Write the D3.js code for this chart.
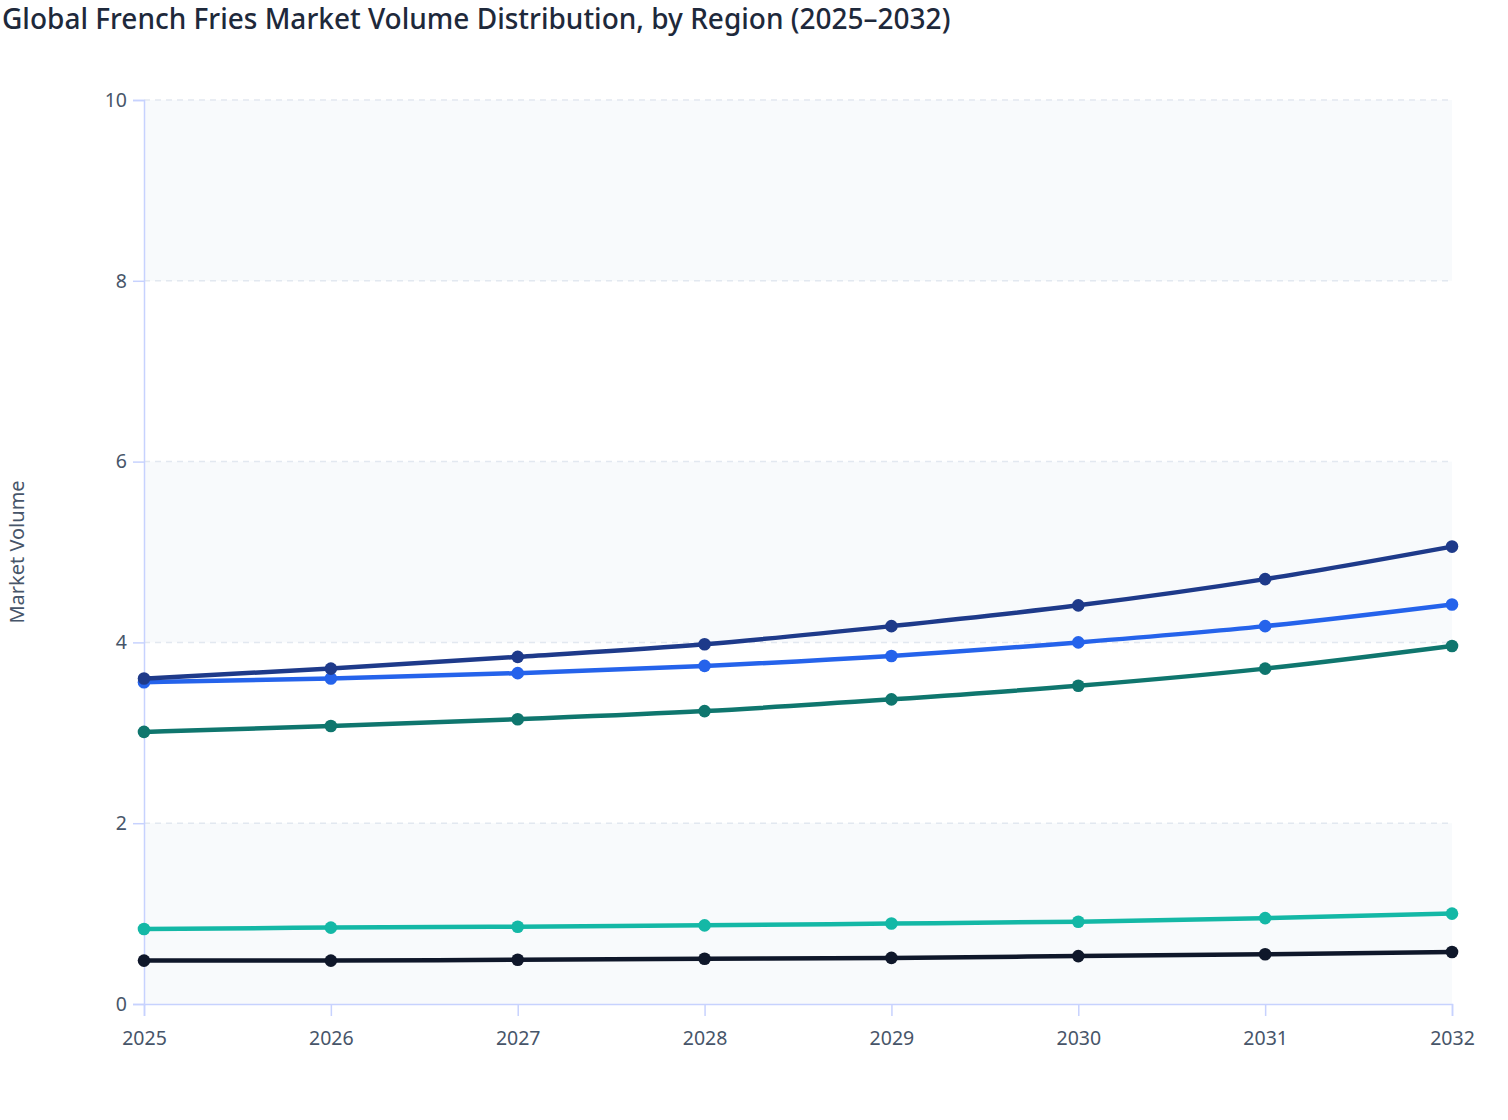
<!DOCTYPE html>
<html>
<head>
<meta charset="utf-8">
<script src="https://cdn.jsdelivr.net/npm/d3@7"></script>
<style>
  body { margin: 0; background: #ffffff; font-family: "Noto Sans", "Open Sans", sans-serif; }
  svg { display: block; }
</style>
</head>
<body>
<svg id="chart"></svg>
<script>
var years = [2025, 2026, 2027, 2028, 2029, 2030, 2031, 2032],
	yTicks = [0, 2, 4, 6, 8, 10],
	regions = ["Middle East & Africa", "Latin America", "Asia Pacific", "Europe", "North America"],
	colors = ["#0f172a", "#14b8a6", "#0f766e", "#2563eb", "#1e3a8a"];

// values, one array per region
var meaValues = [0.48, 0.48, 0.49, 0.50, 0.51, 0.53, 0.55, 0.575],
	latamValues = [0.83, 0.845, 0.855, 0.87, 0.89, 0.91, 0.95, 1.00],
	apacValues = [3.01, 3.075, 3.15, 3.24, 3.37, 3.52, 3.71, 3.96],
	europeValues = [3.56, 3.60, 3.66, 3.74, 3.85, 4.00, 4.18, 4.42],
	naValues = [3.60, 3.71, 3.84, 3.98, 4.18, 4.41, 4.70, 5.06];

var allValues = [meaValues, latamValues, apacValues, europeValues, naValues];

var width = 1508,
	height = 1120,
	margin = {top: 100, right: 56, bottom: 116, left: 144},
	plotwidth = width - margin.left - margin.right,
	plotheight = height - margin.top - margin.bottom;

var vis = d3.select("#chart").attr("width", width).attr("height", height);

var x = d3.scaleLinear().domain([2025, 2032]).range([0, plotwidth]),
	y = d3.scaleLinear().domain([0, 10]).range([plotheight, 0]);

vis.append("text")
	.attr("x", 2)
	.attr("y", 29)
	.attr("fill", "#1e293b")
	.attr("font-size", 28)
	.attr("font-weight", 500)
	.text("Global French Fries Market Volume Distribution, by Region (2025\u20132032)");

var g = vis.append("g").attr("transform", "translate(" + margin.left + "," + margin.top + ")");

// alternating bands
var bands = [];
for (var ii = 0; ii < yTicks.length - 1; ii += 2) bands.push([yTicks[ii], yTicks[ii + 1]]);
g.selectAll("rect.band")
	.data(bands)
	.enter()
	.append("rect")
	.attr("class", "band")
	.attr("x", 0)
	.attr("width", plotwidth)
	.attr("y", function(d){ return y(d[1]); })
	.attr("height", function(d){ return y(d[0]) - y(d[1]); })
	.attr("fill", "#f8fafc");

// grid
g.selectAll("line.grid")
	.data(yTicks.filter(function(d){ return d > 0; }))
	.enter()
	.append("line")
	.attr("class", "grid")
	.attr("x1", 0)
	.attr("x2", plotwidth)
	.attr("y1", function(d){ return y(d); })
	.attr("y2", function(d){ return y(d); })
	.attr("stroke", "#e2e8f0")
	.attr("stroke-width", 1.5)
	.attr("stroke-dasharray", "6,5");

// axes
var yAxis = g.append("g")
	.call(d3.axisLeft(y).tickValues(yTicks).tickSize(11).tickPadding(6).tickFormat(d3.format("d")));
var xAxis = g.append("g")
	.attr("transform", "translate(0," + plotheight + ")")
	.call(d3.axisBottom(x).tickValues(years).tickSize(12).tickPadding(15).tickFormat(d3.format("d")));

[yAxis, xAxis].forEach(function(ax){
	ax.select(".domain").attr("stroke", "#c7d2fe").attr("stroke-width", 1.5);
	ax.selectAll(".tick line").attr("stroke", "#c7d2fe").attr("stroke-width", 1.5);
	ax.selectAll(".tick text")
		.attr("fill", "#475569")
		.attr("font-size", 19.5)
		.attr("font-family", "'Noto Sans', 'Open Sans', sans-serif");
});

vis.append("text")
	.attr("transform", "translate(24," + (margin.top + plotheight / 2) + ") rotate(-90)")
	.attr("text-anchor", "middle")
	.attr("fill", "#475569")
	.attr("font-size", 20)
	.text("Market Volume");

// series
var line = d3.line()
	.x(function(d, i){ return x(years[i]); })
	.y(function(d){ return y(d); })
	.curve(d3.curveMonotoneX);

allValues.forEach(function(vals, jj){
	var sg = g.append("g").attr("class", "series").attr("data-region", regions[jj]);
	sg.append("path")
		.datum(vals)
		.attr("d", line)
		.attr("fill", "none")
		.attr("stroke", colors[jj])
		.attr("stroke-width", 4.5);
	sg.selectAll("circle")
		.data(vals)
		.enter()
		.append("circle")
		.attr("cx", function(d, i){ return x(years[i]); })
		.attr("cy", function(d){ return y(d); })
		.attr("r", 6.3)
		.attr("fill", colors[jj]);
});
</script>
</body>
</html>
